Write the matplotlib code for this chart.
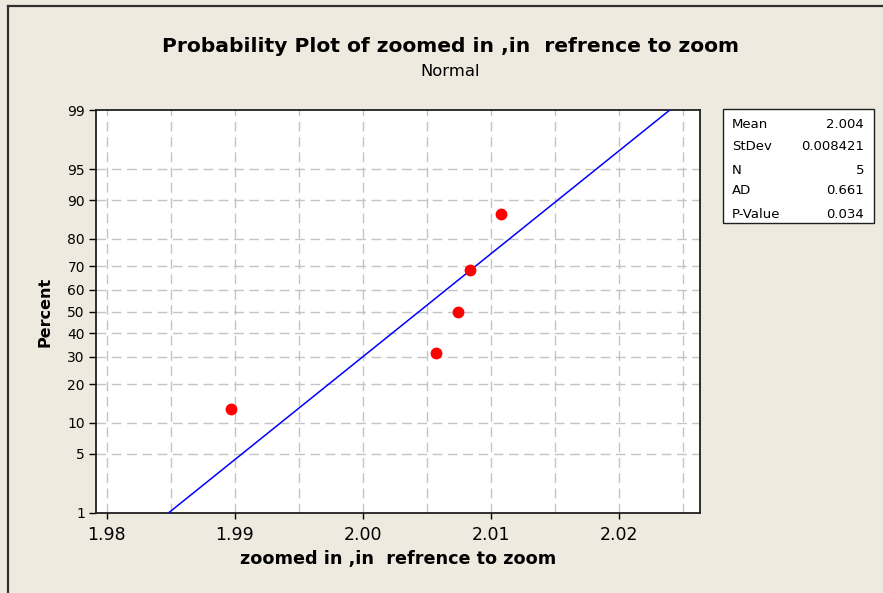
import numpy as np
import matplotlib
matplotlib.use("Agg")
import matplotlib.pyplot as plt
from matplotlib.lines import Line2D
from statistics import NormalDist

plt.rcParams["font.family"] = ["DejaVu Sans"]
plt.rcParams["lines.scale_dashes"] = False

# ── Data ──────────────────────────────────────────────────────────────────────
x_vals   = [1.98972, 2.00573, 2.00742, 2.00836, 2.01081]
pct_vals = [12.96, 31.48, 50.0, 68.52, 87.04]

stat_names  = ["Mean", "StDev", "N", "AD", "P-Value"]
stat_values = ["2.004", "0.008421", "5", "0.661", "0.034"]

y_ticks  = [1, 5, 10, 20, 30, 40, 50, 60, 70, 80, 90, 95, 99]
x_ticks  = [1.98, 1.99, 2.00, 2.01, 2.02]
x_grid   = [1.98, 1.985, 1.99, 1.995, 2.00, 2.005, 2.01, 2.015, 2.02, 2.025]

BG = "#EEEAE0"

# ── Normal probability scale ─────────────────────────────────────────────────
_nd = NormalDist()
_ppf = np.vectorize(lambda p: _nd.inv_cdf(min(max(p, 1e-9), 100 - 1e-9) / 100.0),
                    otypes=[float])
_cdf = np.vectorize(lambda z: _nd.cdf(z) * 100.0, otypes=[float])

def fwd(p):
    return _ppf(np.asarray(p, dtype=float))

def inv(z):
    return _cdf(np.asarray(z, dtype=float))

fig = plt.figure(figsize=(8.83, 5.93), dpi=100, facecolor=BG)
ax = fig.add_axes([96 / 883, 1 - 513 / 593, 604 / 883, 403 / 593])
ax.set_facecolor("white")
ax.set_yscale("function", functions=(fwd, inv))

# fitted line from sample mean / stdev
mu = np.mean(x_vals)
sd = np.std(x_vals, ddof=1)
p_line = np.linspace(1, 99, 200)
z_line = fwd(p_line)
ax.plot(mu + z_line * sd, p_line, color="#0000FF", lw=1.1, zorder=3)

ax.plot(x_vals, pct_vals, "o", color="#FF0000", ms=7.5, mec="#FF0000", zorder=4)

ax.set_xlim(1.97918, 2.02634)
ax.set_ylim(1, 99)

ax.set_xticks(x_ticks)
ax.set_xticklabels([f"{v:.2f}" for v in x_ticks], fontsize=12.5)
ax.set_yticks(y_ticks)
ax.set_yticklabels([str(v) for v in y_ticks], fontsize=10)
ax.yaxis.set_minor_locator(matplotlib.ticker.NullLocator())
ax.tick_params(axis="x", direction="out", length=4, width=1, pad=5)
ax.tick_params(axis="y", direction="out", length=5, width=1, pad=3)

gkw = dict(color="#C4C4C4", lw=1.0, linestyle=(0, (7, 4)), zorder=1)
for g in x_grid:
    ax.axvline(g, **gkw)
for t in y_ticks[1:-1]:
    ax.axhline(t, **gkw)

for s in ax.spines.values():
    s.set_linewidth(1.3)
    s.set_color("#202020")

ax.set_xlabel("zoomed in ,in  refrence to zoom", fontsize=12.7,
              fontweight="bold", va="center")
ax.xaxis.set_label_coords(0.5, -0.114)
ax.set_ylabel("Percent", fontsize=11.5, fontweight="bold", va="center")
ax.yaxis.set_label_coords(-0.085, 0.5)

fig.text(450 / 883, 1 - 47 / 593, "Probability Plot of zoomed in ,in  refrence to zoom",
         ha="center", va="center", fontsize=14.6, fontweight="bold")
fig.text(450 / 883, 1 - 72 / 593, "Normal", ha="center", va="center", fontsize=11.8)

# ── Stats box ─────────────────────────────────────────────────────────────────
box = plt.Rectangle((723 / 883, 1 - 223 / 593), 151 / 883, 114 / 593,
                    transform=fig.transFigure, facecolor="white",
                    edgecolor="#202020", lw=1.0)
fig.patches.append(box)
row_y = [125, 147, 170, 191, 214]
for name, val, yy in zip(stat_names, stat_values, row_y):
    fig.text(732 / 883, 1 - yy / 593, name, ha="left", va="center", fontsize=9.5)
    fig.text(864 / 883, 1 - yy / 593, val, ha="right", va="center", fontsize=9.5)

# outer frame (left and top edge visible)
fig.add_artist(Line2D([8 / 883, 8 / 883], [0, 1 - 6 / 593],
                      transform=fig.transFigure, color="#303030", lw=1.6))
fig.add_artist(Line2D([8 / 883, 1], [1 - 6 / 593, 1 - 6 / 593],
                      transform=fig.transFigure, color="#303030", lw=1.6))

fig.savefig("out.png", dpi=100, facecolor=BG)
